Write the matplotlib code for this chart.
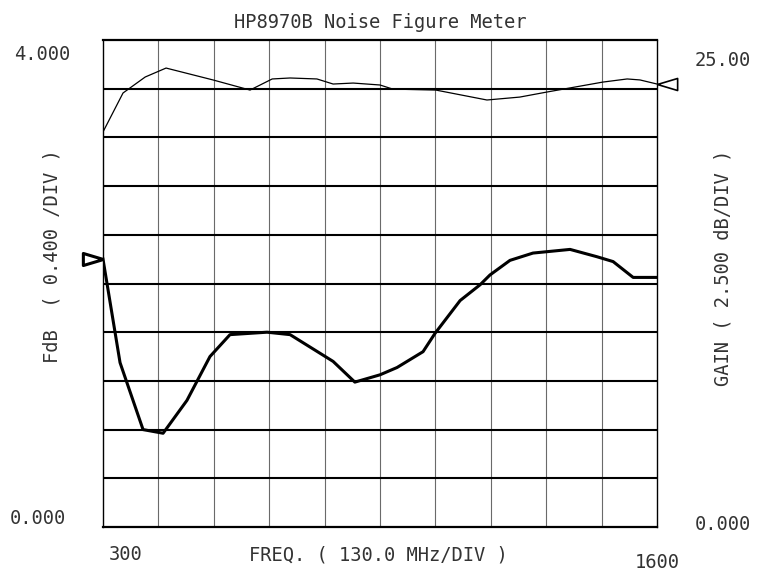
import matplotlib.pyplot as plt
import numpy as np

plt.rcParams.update({
    'font.family': 'DejaVu Sans Mono',
    'font.size': 13.5,
    'text.color': '#333333',
})

# data
freq_nf = [300, 340, 394, 441, 497, 551, 598, 685, 739, 840, 891, 950, 990,
           1051, 1079, 1138, 1185, 1208, 1255, 1309, 1396, 1459, 1497, 1544, 1600]
nf_db = [2.20, 1.35, 0.80, 0.77, 1.04, 1.40, 1.58, 1.60, 1.58, 1.36, 1.19, 1.25, 1.31,
         1.44, 1.59, 1.86, 1.99, 2.07, 2.19, 2.25, 2.28, 2.22, 2.18, 2.05, 2.05]

freq_gain = [300, 347, 399, 448, 558, 645, 697, 739, 802, 840, 887, 950, 980,
             1081, 1201, 1278, 1342, 1396, 1473, 1530, 1560, 1600]
gain_db = [20.28, 22.28, 23.10, 23.56, 22.95, 22.43, 23.0, 23.05, 23.0, 22.74, 22.79,
           22.69, 22.48, 22.43, 21.92, 22.07, 22.33, 22.54, 22.84, 23.0, 22.95, 22.74]

f_start, f_stop, f_div = 300, 1600, 130.0
nf_max, nf_div = 4.0, 0.4
gain_max, gain_div = 25.0, 2.5

fig = plt.figure(figsize=(7.57, 5.70), dpi=100)
ax = fig.add_axes([103 / 757, 1 - 527 / 570, 554 / 757, 487 / 570])

# grid: vertical thin gray, horizontal heavy black
for f in np.arange(f_start + f_div, f_stop, f_div):
    ax.axvline(f, color='#6a6a6a', lw=0.8, zorder=1)
for v in np.arange(nf_div, nf_max, nf_div):
    ax.axhline(v, color='black', lw=1.5, zorder=1)

ax.set_xlim(f_start, f_stop)
ax.set_ylim(0, nf_max)
ax.set_xticks([])
ax.set_yticks([])
for side in ['top', 'bottom']:
    ax.spines[side].set_linewidth(1.6)
for side in ['left', 'right']:
    ax.spines[side].set_linewidth(1.0)

ax.plot(freq_nf, nf_db, color='black', lw=2.2, zorder=3)
nf_marker = [(0, 0), (-1, 0.3), (-1, -0.3), (0, 0)]
ax.plot(freq_nf[0], nf_db[0], marker=nf_marker, ms=29, mfc='none', mec='black',
        mew=2.2, clip_on=False, zorder=4)

ax2 = ax.twinx()
ax2.set_ylim(0, gain_max)
ax2.set_yticks([])
ax2.spines[:].set_visible(False)
ax2.plot(freq_gain, gain_db, color='black', lw=0.9, zorder=3)
gain_marker = [(0, 0), (1, 0.3), (1, -0.3), (0, 0)]
ax2.plot(freq_gain[-1], gain_db[-1], marker=gain_marker, ms=29, mfc='none', mec='black',
         mew=1.2, clip_on=False, zorder=4)

# texts
def ftext(x, y, s, **kw):
    fig.text(x / 757, 1 - y / 570, s, ha='center', va='center', **kw)

ftext(380, 22, 'HP8970B Noise Figure Meter')
ftext(42, 54, '4.000')
ftext(38, 518, '0.000')
ftext(723, 61, '25.00')
ftext(723, 524, '0.000')
ftext(126, 555, '300')
ftext(657, 562, '1600')
ftext(378, 555, 'FREQ. ( 130.0 MHz/DIV )')
ftext(52, 256, 'FdB  ( 0.400 /DIV )', rotation=90)
ftext(723, 268, 'GAIN ( 2.500 dB/DIV )', rotation=90)

fig.savefig('out.png', dpi=100)
